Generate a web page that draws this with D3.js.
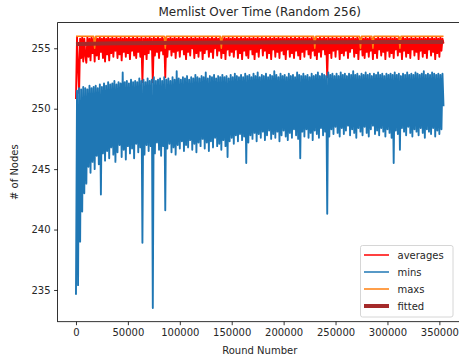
<!DOCTYPE html>
<html>
<head>
<meta charset="utf-8">
<script src="https://cdn.jsdelivr.net/npm/d3@7"></script>
<style>
    body { margin: 0; background: #fff; }
    svg { display: block; font-family: 'DejaVu Sans', sans-serif; }
</style>
</head>
<body>
<svg id="chart"></svg>
<script>
// one sample every 1000 rounds, 0 .. 354000
const roundStep = 1000;
const rounds = d3.range(0, 355000, roundStep);

const averages = [
    250.8, 255.9, 253.6, 251.3, 255.8, 254.2, 255.9, 253.9, 255.8, 254.4,
    253.8, 255.9, 254.3, 255.8, 254.0, 255.9, 254.6, 255.8, 253.9, 255.9,
    254.4, 255.8, 254.1, 255.9, 254.7, 255.8, 254.2, 255.9, 253.9, 255.8,
    254.5, 255.9, 254.0, 255.8, 254.6, 255.9, 254.3, 255.8, 254.8, 255.9,
    254.2, 255.8, 254.5, 255.9, 254.0, 255.8, 254.7, 255.9, 254.3, 255.8,
    254.6, 255.9, 254.1, 255.8, 254.8, 255.9, 254.4, 255.8, 254.2, 255.9,
    254.7, 255.8, 254.3, 255.9, 252.2, 255.8, 254.5, 255.9, 254.1, 255.8,
    254.6, 255.9, 254.9, 255.8, 252.2, 255.9, 254.4, 255.8, 254.7, 255.9,
    254.2, 255.8, 254.8, 255.9, 254.5, 255.8, 252.6, 255.9, 254.3, 255.8,
    254.9, 255.9, 254.4, 255.8, 254.7, 255.9, 254.2, 255.8, 254.8, 255.9,
    254.3, 255.8, 254.9, 255.9, 254.5, 255.8, 254.1, 255.9, 254.7, 255.8,
    254.4, 255.9, 255.0, 255.8, 254.2, 255.9, 254.6, 255.8, 254.3, 255.9,
    254.8, 255.8, 254.1, 255.9, 254.6, 255.8, 254.9, 255.9, 254.3, 255.8,
    254.7, 255.9, 254.2, 255.8, 255.0, 255.9, 254.4, 255.8, 254.8, 255.9,
    254.2, 255.8, 254.6, 255.9, 254.1, 255.8, 254.9, 255.9, 254.4, 255.8,
    254.7, 255.9, 254.3, 255.8, 254.9, 255.9, 254.2, 255.8, 254.6, 255.9,
    254.1, 255.8, 254.8, 255.9, 254.4, 255.8, 254.2, 255.9, 254.9, 255.8,
    254.5, 255.9, 254.1, 255.8, 254.7, 255.9, 254.3, 255.8, 255.0, 255.9,
    254.4, 255.8, 254.8, 255.9, 254.2, 255.8, 254.6, 255.9, 254.1, 255.8,
    254.9, 255.9, 254.3, 255.8, 254.7, 255.9, 254.2, 255.8, 254.8, 255.9,
    254.5, 255.8, 254.1, 255.9, 254.9, 255.8, 254.3, 255.9, 254.6, 255.8,
    254.2, 255.9, 254.8, 255.8, 254.4, 255.9, 254.1, 255.8, 254.7, 255.9,
    254.3, 255.8, 254.9, 255.9, 254.5, 255.8, 254.2, 255.9, 254.8, 255.8,
    254.4, 255.9, 254.1, 255.8, 254.7, 255.9, 254.3, 255.8, 254.9, 255.9,
    254.5, 255.8, 252.6, 255.9, 254.6, 255.8, 254.2, 255.9, 254.8, 255.8,
    254.3, 255.9, 254.9, 255.8, 254.1, 255.9, 254.6, 255.8, 254.4, 255.9,
    254.8, 255.8, 254.2, 255.9, 254.7, 255.8, 255.0, 255.9, 254.3, 255.8,
    254.6, 255.9, 254.1, 255.8, 254.9, 255.9, 254.4, 255.8, 254.2, 255.9,
    254.7, 255.8, 254.3, 255.9, 254.8, 255.8, 254.1, 255.9, 254.6, 255.8,
    254.2, 255.9, 254.9, 255.8, 254.4, 255.9, 254.7, 255.8, 254.1, 255.9,
    254.8, 255.8, 254.3, 255.9, 254.6, 255.8, 254.2, 255.9, 254.9, 255.8,
    254.4, 255.9, 254.7, 255.8, 254.1, 255.9, 254.8, 255.8, 254.3, 255.9,
    254.6, 255.8, 254.2, 255.9, 254.9, 255.8, 254.4, 255.9, 254.7, 255.8,
    254.1, 255.9, 254.8, 255.8, 254.3, 255.9, 254.6, 255.8, 254.2, 255.9,
    254.9, 255.8, 254.4, 255.9, 254.7, 255.8, 254.1, 255.9, 254.6, 255.8,
    254.3, 255.9, 254.8, 255.8, 255.4
];

const mins = [
    234.6, 251.5, 235.4, 251.7, 239.0, 251.6, 241.5, 251.8, 243.0, 251.7,
    243.8, 251.6, 245.2, 251.9, 244.7, 251.7, 245.6, 251.8, 245.0, 251.9,
    246.1, 251.7, 245.4, 252.0, 242.9, 251.8, 246.3, 252.1, 245.7, 251.9,
    246.5, 252.2, 245.9, 252.0, 246.8, 252.1, 246.2, 252.3, 245.6, 252.0,
    246.4, 252.2, 247.0, 252.1, 246.0, 253.0, 246.6, 252.2, 245.8, 252.3,
    246.9, 252.1, 246.3, 252.4, 246.7, 252.2, 245.9, 252.3, 247.1, 252.2,
    246.4, 252.5, 246.8, 252.3, 238.9, 252.4, 246.2, 252.2, 247.0, 252.5,
    246.5, 252.3, 246.9, 252.4, 233.5, 252.6, 246.3, 252.3, 247.2, 252.4,
    246.6, 252.5, 246.1, 252.3, 246.9, 252.6, 241.6, 252.4, 246.7, 252.5,
    247.1, 252.3, 246.4, 252.6, 246.8, 252.4, 246.2, 253.1, 247.0, 252.5,
    246.7, 252.4, 247.3, 252.6, 246.5, 252.5, 247.0, 252.7, 246.8, 252.4,
    247.4, 252.6, 246.6, 252.5, 247.1, 252.8, 246.4, 252.6, 247.2, 252.5,
    246.9, 252.7, 247.5, 252.6, 246.7, 253.0, 247.2, 252.5, 246.5, 252.7,
    247.3, 252.6, 246.8, 252.8, 247.6, 252.5, 246.9, 252.7, 247.1, 252.6,
    246.6, 252.8, 247.4, 252.6, 246.9, 252.7, 246.0, 252.5, 247.3, 252.8,
    247.6, 252.6, 247.1, 252.9, 247.8, 252.7, 247.3, 252.6, 247.9, 252.8,
    247.4, 252.6, 247.7, 252.9, 245.5, 252.7, 247.2, 252.8, 247.8, 252.6,
    247.5, 252.9, 248.0, 252.7, 247.3, 253.0, 247.9, 252.6, 247.6, 252.8,
    248.1, 252.7, 247.4, 252.9, 247.8, 252.6, 248.2, 252.8, 247.5, 252.7,
    247.9, 253.1, 247.6, 252.8, 248.1, 252.6, 247.3, 252.9, 247.8, 252.7,
    248.2, 252.8, 247.7, 252.6, 247.4, 252.9, 248.0, 252.7, 247.6, 252.8,
    248.3, 252.6, 247.8, 253.0, 247.5, 252.8, 245.9, 252.7, 248.1, 252.9,
    247.7, 252.7, 248.3, 252.8, 247.6, 252.6, 248.0, 252.9, 247.4, 252.7,
    248.2, 252.8, 247.9, 253.0, 247.6, 252.7, 248.4, 252.9, 247.8, 252.8,
    248.1, 252.7, 241.3, 253.0, 247.7, 252.8, 248.3, 252.9, 247.9, 252.7,
    248.5, 252.9, 248.0, 252.7, 247.7, 253.0, 248.4, 252.8, 247.9, 252.9,
    248.2, 252.7, 248.6, 252.9, 247.8, 252.8, 248.3, 253.1, 248.0, 252.8,
    247.6, 252.9, 248.4, 252.7, 248.1, 252.9, 247.8, 252.8, 248.5, 253.0,
    248.0, 252.8, 247.7, 252.9, 248.3, 252.7, 248.6, 252.9, 247.9, 252.8,
    248.2, 253.0, 247.8, 252.8, 248.4, 252.9, 248.1, 252.7, 247.7, 252.9,
    248.3, 252.8, 248.0, 252.9, 247.6, 252.8, 245.5, 253.0, 248.2, 252.8,
    247.9, 252.9, 246.6, 252.7, 248.4, 252.9, 248.1, 252.8, 247.8, 253.0,
    248.5, 252.8, 248.0, 252.9, 247.7, 252.8, 248.3, 253.0, 248.1, 252.9,
    247.8, 252.8, 248.4, 252.9, 248.0, 253.1, 247.6, 252.8, 248.3, 252.9,
    248.1, 252.8, 247.9, 253.0, 248.4, 252.9, 247.7, 252.8, 248.2, 252.9,
    247.9, 252.8, 248.3, 252.9, 250.2
];

const maxs = [
    256, 256, 256, 256, 256, 256, 256, 256, 256, 256, 256, 256, 256, 256, 256, 256, 256, 256, 255, 256,
    256, 256, 256, 256, 256, 256, 256, 256, 256, 256, 256, 256, 256, 256, 256, 256, 256, 256, 256, 256,
    256, 256, 256, 256, 256, 256, 256, 256, 256, 256, 256, 256, 256, 256, 256, 256, 256, 256, 256, 256,
    256, 256, 256, 256, 256, 256, 256, 256, 256, 256, 256, 256, 256, 256, 256, 256, 256, 256, 256, 256,
    256, 256, 256, 256, 256, 256, 255, 256, 256, 256, 256, 256, 256, 256, 256, 256, 256, 256, 256, 256,
    256, 256, 256, 256, 256, 256, 256, 256, 256, 256, 256, 256, 256, 256, 256, 256, 256, 256, 256, 256,
    256, 256, 256, 256, 256, 256, 256, 256, 256, 256, 256, 256, 256, 256, 256, 256, 256, 256, 256, 256,
    255, 256, 256, 256, 256, 256, 256, 256, 256, 256, 256, 256, 256, 256, 256, 256, 256, 256, 256, 256,
    256, 256, 256, 256, 256, 256, 256, 256, 256, 256, 256, 256, 256, 256, 256, 256, 256, 256, 256, 256,
    256, 256, 256, 256, 256, 256, 256, 256, 256, 256, 256, 256, 256, 256, 256, 256, 256, 256, 256, 256,
    256, 256, 256, 256, 256, 256, 256, 256, 256, 256, 256, 256, 256, 256, 256, 256, 256, 256, 256, 256,
    256, 256, 256, 256, 256, 256, 256, 256, 256, 256, 255, 256, 256, 256, 256, 256, 256, 256, 256, 256,
    256, 256, 256, 256, 256, 256, 256, 256, 256, 256, 256, 256, 256, 256, 256, 256, 256, 256, 256, 256,
    256, 256, 256, 256, 256, 256, 256, 256, 256, 256, 256, 256, 256, 256, 255, 256, 256, 256, 256, 256,
    256, 256, 256, 256, 256, 256, 255, 256, 256, 256, 256, 256, 256, 256, 256, 256, 256, 256, 256, 256,
    256, 256, 256, 256, 256, 256, 256, 256, 256, 256, 256, 256, 255, 256, 256, 256, 256, 256, 256, 256,
    256, 256, 256, 256, 256, 256, 256, 256, 256, 256, 256, 256, 256, 256, 256, 256, 256, 256, 256, 256,
    256, 256, 256, 256, 256, 256, 256, 256, 256, 256, 256, 256, 256, 256, 256
];

// fitted trend, read at a few rounds
const fittedRounds = [0, 25000, 50000, 100000, 150000, 200000, 250000, 300000, 354000];
const fittedValues = [255.35, 255.40, 255.42, 255.45, 255.47, 255.49, 255.50, 255.51, 255.52];

const xTicks = [0, 50000, 100000, 150000, 200000, 250000, 300000, 350000];
const yTicks = [235, 240, 245, 250, 255];

const seriesNames = ['averages', 'mins', 'maxs', 'fitted'];
const seriesColors = ['#ff0000', '#1f77b4', '#ff7f0e', '#a52a2a'];
// the noisy series are sampled coarser than the log, so draw them a bit heavier
const seriesWidths = [1.9, 1.9, 1.5];

const W = 459, H = 360;
const plot = { left: 57.6, right: 461.9, top: 22.6, bottom: 321.7 };

const svg = d3.select('#chart')
    .attr('width', W)
    .attr('height', H);

const x = d3.scaleLinear().domain([-17700, 371700]).range([plot.left, plot.right]);
const y = d3.scaleLinear().domain([232.375, 257.125]).range([plot.bottom, plot.top]);

svg.append('defs').append('clipPath')
    .attr('id', 'plotClip')
    .append('rect')
    .attr('x', plot.left)
    .attr('y', plot.top)
    .attr('width', plot.right - plot.left)
    .attr('height', plot.bottom - plot.top);

const lines = svg.append('g').attr('clip-path', 'url(#plotClip)');

const line = d3.line()
    .x(d => x(d[0]))
    .y(d => y(d[1]));

const pairs = vals => rounds.map((r, i) => [r, vals[i]]);

[averages, mins, maxs].forEach((vals, k) => {
    lines.append('path')
        .datum(pairs(vals))
        .attr('fill', 'none')
        .attr('stroke', seriesColors[k])
        .attr('stroke-width', seriesWidths[k])
        .attr('stroke-linejoin', 'round')
        .attr('d', line);
});

lines.append('path')
    .datum(fittedRounds.map((r, i) => [r, fittedValues[i]]))
    .attr('fill', 'none')
    .attr('stroke', seriesColors[3])
    .attr('stroke-width', 4)
    .attr('d', line.curve(d3.curveMonotoneX));

// axes
const xAxis = d3.axisBottom(x)
    .tickValues(xTicks)
    .tickFormat(d3.format('d'))
    .tickSizeInner(3.5)
    .tickSizeOuter(0)
    .tickPadding(3.5);

const yAxis = d3.axisLeft(y)
    .tickValues(yTicks)
    .tickFormat(d3.format('d'))
    .tickSizeInner(3.5)
    .tickSizeOuter(0)
    .tickPadding(3.5);

const gx = svg.append('g')
    .attr('transform', `translate(0,${plot.bottom})`)
    .call(xAxis);

const gy = svg.append('g')
    .attr('transform', `translate(${plot.left},0)`)
    .call(yAxis);

[gx, gy].forEach(g => {
    g.selectAll('.domain').remove();
    g.selectAll('.tick line').attr('stroke', '#000').attr('stroke-width', 0.8);
    g.selectAll('text')
        .attr('fill', '#262626')
        .style('font-family', "'DejaVu Sans', sans-serif")
        .style('font-size', '10px');
});

// frame
svg.append('rect')
    .attr('x', plot.left)
    .attr('y', plot.top)
    .attr('width', plot.right - plot.left)
    .attr('height', plot.bottom - plot.top)
    .attr('fill', 'none')
    .attr('stroke', '#000')
    .attr('stroke-width', 0.8);

svg.append('text')
    .attr('x', (plot.left + plot.right) / 2)
    .attr('y', 16)
    .attr('text-anchor', 'middle')
    .attr('fill', '#262626')
    .style('font-size', '12px')
    .text('Memlist Over Time (Random 256)');

svg.append('text')
    .attr('x', (plot.left + plot.right) / 2)
    .attr('y', 354)
    .attr('text-anchor', 'middle')
    .attr('fill', '#262626')
    .style('font-size', '10px')
    .text('Round Number');

svg.append('text')
    .attr('transform', 'rotate(-90)')
    .attr('x', -(plot.top + plot.bottom) / 2)
    .attr('y', 18)
    .attr('text-anchor', 'middle')
    .attr('fill', '#262626')
    .style('font-size', '10px')
    .text('# of Nodes');

// legend
const legend = svg.append('g').attr('transform', 'translate(360.5,245.5)');

legend.append('rect')
    .attr('width', 92.5)
    .attr('height', 71.5)
    .attr('rx', 2)
    .attr('fill', '#fff')
    .attr('fill-opacity', 0.8)
    .attr('stroke', '#cccccc')
    .attr('stroke-width', 0.8);

seriesNames.forEach((name, i) => {
    const cy = 9.5 + i * 17;
    legend.append('line')
        .attr('x1', 3.5)
        .attr('x2', 28.5)
        .attr('y1', cy)
        .attr('y2', cy)
        .attr('stroke', seriesColors[i])
        .attr('stroke-width', name === 'fitted' ? 4 : 1.5);
    legend.append('text')
        .attr('x', 37)
        .attr('y', cy)
        .attr('dy', '0.35em')
        .attr('fill', '#262626')
        .style('font-size', '10px')
        .text(name);
});
</script>
</body>
</html>
